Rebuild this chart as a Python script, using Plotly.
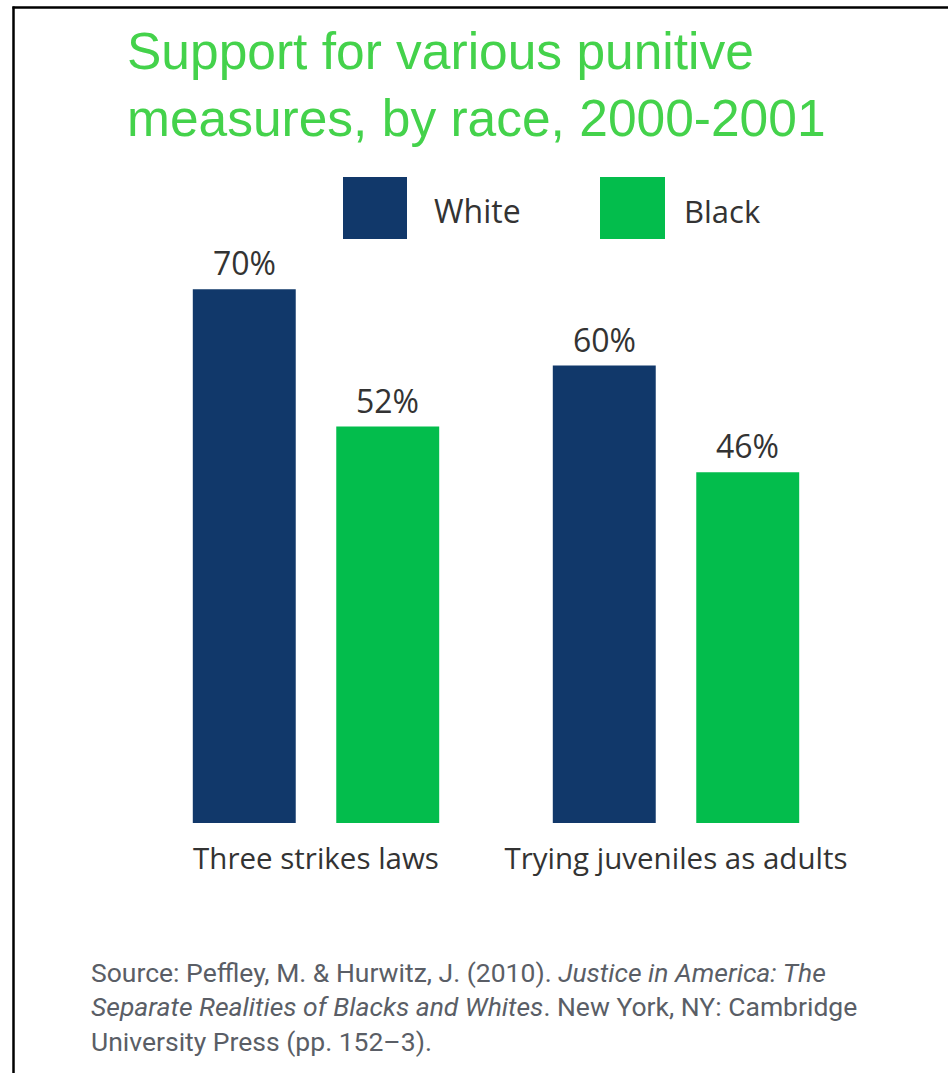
import plotly.graph_objects as go

W, H = 948, 1073

categories = ["Three strikes laws", "Trying juveniles as adults"]
white_support = [70, 60]
black_support = [52, 46]
series_names = ["White", "Black"]

NAVY = "#11386a"
GREEN = "#03bd4c"
TITLE_GREEN = "#44d24b"
TEXT = "#333333"
SOURCE = "#5a5e66"


def px(x):
    return x / W


def py(y):
    return 1 - y / H


fig = go.Figure()
fig.add_trace(go.Bar(x=categories, y=white_support, name=series_names[0],
                     marker=dict(color=NAVY, line=dict(width=0))))
fig.add_trace(go.Bar(x=categories, y=black_support, name=series_names[1],
                     marker=dict(color=GREEN, line=dict(width=0))))

annotations = []
# value labels above each bar
for vals, shift in ((white_support, -71.75), (black_support, 71.75)):
    for cat, v in zip(categories, vals):
        annotations.append(dict(x=cat, y=v, xref="x", yref="y", xshift=shift,
                                yshift=3, yanchor="bottom", showarrow=False,
                                text=f"{v}%",
                                font=dict(family="Open Sans", size=32, color=TEXT)))

# title
annotations.append(dict(
    x=px(125), y=py(20), xref="paper", yref="paper", xanchor="left", yanchor="top",
    align="left", showarrow=False,
    text="Support for various punitive<br>measures, by race, 2000-2001",
    font=dict(family="Arial, Liberation Sans", size=51.5, color=TITLE_GREEN)))

# legend labels
annotations.append(dict(x=px(432), y=py(210), xref="paper", yref="paper",
                        xanchor="left", yanchor="middle", showarrow=False,
                        text=series_names[0],
                        font=dict(family="Open Sans", size=32, color=TEXT)))
annotations.append(dict(x=px(682), y=py(211), xref="paper", yref="paper",
                        xanchor="left", yanchor="middle", showarrow=False,
                        text=series_names[1],
                        font=dict(family="Open Sans", size=31, color=TEXT)))

# source note
annotations.append(dict(
    x=px(89), y=py(955), xref="paper", yref="paper", xanchor="left", yanchor="top",
    align="left", showarrow=False,
    text=("Source: Peffley, M. &amp; Hurwitz, J. (2010). <i>Justice in America: The</i><br>"
          "<i>Separate Realities of Blacks and Whites</i>. New York, NY: Cambridge<br>"
          "University Press (pp. 152\u20133)."),
    font=dict(family="Roboto", size=26.5, color=SOURCE)))

shapes = [
    # frame
    dict(type="line", xref="paper", yref="paper", x0=px(13.5), x1=px(13.5),
         y0=py(6.5), y1=0, line=dict(color="black", width=2.5)),
    dict(type="line", xref="paper", yref="paper", x0=px(12.5), x1=1,
         y0=py(7.5), y1=py(7.5), line=dict(color="black", width=2.5)),
    # legend swatches
    dict(type="rect", xref="paper", yref="paper", x0=px(343), x1=px(407),
         y0=py(239), y1=py(177), fillcolor=NAVY, line=dict(width=0)),
    dict(type="rect", xref="paper", yref="paper", x0=px(600), x1=px(665),
         y0=py(239), y1=py(177), fillcolor=GREEN, line=dict(width=0)),
]

fig.update_layout(
    width=W, height=H,
    margin=dict(l=0, r=0, t=0, b=0),
    paper_bgcolor="white", plot_bgcolor="white",
    barmode="group", bargap=0.203, bargroupgap=0.2825,
    showlegend=False,
    annotations=annotations,
    shapes=shapes,
    xaxis=dict(type="category", range=[-0.5, 1.5], domain=[px(136), px(856)],
               showgrid=False, zeroline=False, showline=False,
               ticks="", ticklabelstandoff=15,
               tickfont=dict(family="Open Sans", size=29.5, color=TEXT)),
    yaxis=dict(range=[0, 80], domain=[py(823), py(213)], visible=False),
)

fig.write_html("out.html")
